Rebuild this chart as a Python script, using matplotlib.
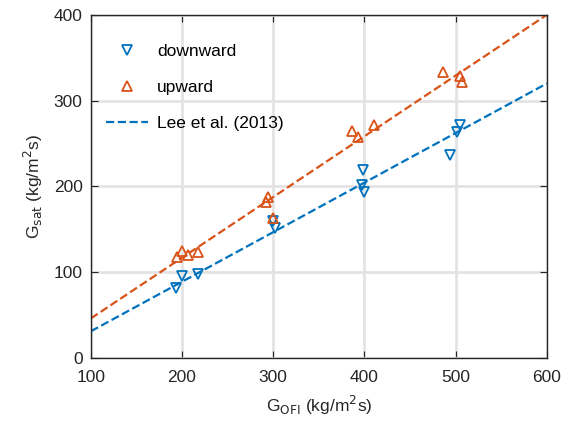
import numpy as np
import matplotlib.pyplot as plt

plt.rcParams['font.family'] = ['Liberation Sans', 'DejaVu Sans']

# downward flow data (G_OFI, G_sat)
down_x = [193, 200, 217, 302, 300, 398, 397, 400, 494, 502, 505]
down_y = [82, 95, 98, 152, 160, 219, 202, 194, 237, 263, 272]

# upward flow data
up_x = [195, 200, 206, 218, 292, 294, 300, 386, 393, 411, 486, 505, 507]
up_y = [118, 125, 120, 123, 182, 188, 163, 265, 257, 271, 333, 329, 322]

# fit lines
line_x = [100, 600]
lee_y = [31, 320]
up_fit_y = [46, 400]

blue = '#0072BD'
orange = '#D95319'

fig = plt.figure(figsize=(5.75, 4.25), dpi=100)
ax = fig.add_axes([0.158, 0.158, 0.793, 0.807])

ax.plot(down_x, down_y, 'v', mfc='none', mec=blue, mew=1.3, ms=7, label='downward', zorder=3)
ax.plot(up_x, up_y, '^', mfc='none', mec=orange, mew=1.3, ms=7, label='upward', zorder=3)
ax.plot(line_x, lee_y, '--', color=blue, lw=1.6, label='Lee et al. (2013)', zorder=2)
ax.plot(line_x, up_fit_y, '--', color=orange, lw=1.6, zorder=2)

ax.set_xlim(100, 600)
ax.set_ylim(0, 400)
ax.set_xticks([100, 200, 300, 400, 500, 600])
ax.set_yticks([0, 100, 200, 300, 400])
ax.grid(True, color='#e3e3e3', lw=2)
ax.set_axisbelow(True)
ax.tick_params(direction='in', top=True, right=True, labelsize=12.5, colors='#262626', length=5)
ax.tick_params(axis='x', pad=9)
ax.tick_params(axis='y', pad=6)
for s in ax.spines.values():
    s.set_color('#262626')
    s.set_linewidth(1.0)

ax.set_xlabel(r'G$_{\mathrm{OFI}}$ (kg/m$^2$s)', fontsize=12.5, color='#262626', labelpad=6)
ax.set_ylabel(r'G$_{\mathrm{sat}}$ (kg/m$^2$s)', fontsize=12.5, color='#262626', labelpad=6)

leg = ax.legend(loc='upper left', frameon=False, fontsize=12.5, handlelength=2.4,
                bbox_to_anchor=(0.0, 0.96), labelspacing=1.2, handletextpad=0.5)

fig.savefig('out.png', dpi=100)
